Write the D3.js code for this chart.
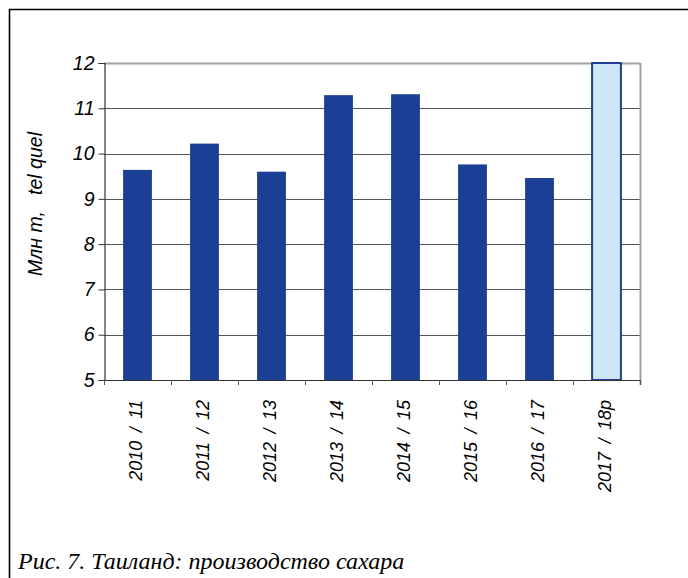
<!DOCTYPE html>
<html>
<head>
<meta charset="utf-8">
<script src="https://cdn.jsdelivr.net/npm/d3@7"></script>
<style>
  html, body { margin: 0; padding: 0; background: #fff; }
  svg { display: block; }
</style>
</head>
<body>
<svg id="chart" width="688" height="578"></svg>
<script>
// Sugar production in Thailand, million tonnes tel quel
const seasons = ["2010 / 11", "2011 / 12", "2012 / 13", "2013 / 14",
                 "2014 / 15", "2015 / 16", "2016 / 17", "2017 / 18p"];
const production = [9.64, 10.22, 9.60, 11.29, 11.31, 9.76, 9.46, 12.0];
const forecast = [false, false, false, false, false, false, false, true];
const yTicks = [5, 6, 7, 8, 9, 10, 11, 12];
const yTitle = "Млн т,   tel quel";
const caption = "Рис. 7. Таиланд: производство сахара";

const svg = d3.select("#chart");
const plot = { left: 104, right: 640, top: 63, bottom: 380 };
const sans = "'Liberation Sans', Arial, sans-serif";

const x = d3.scaleBand()
  .domain(seasons)
  .range([plot.left, plot.right])
  .paddingInner(0.57)
  .paddingOuter(0.285);

const y = d3.scaleLinear()
  .domain([5, 12])
  .range([plot.bottom, plot.top]);

// outer frame (runs off the page on the right and bottom)
svg.append("path")
  .attr("d", "M9.5,700 L9.5,9.5 L700,9.5")
  .attr("fill", "none")
  .attr("stroke", "#000")
  .attr("stroke-width", 1.6);

// horizontal gridlines
svg.append("g")
  .selectAll("line")
  .data(yTicks.filter(t => t > 5))
  .join("line")
  .attr("x1", plot.left)
  .attr("x2", plot.right)
  .attr("y1", d => Math.round(y(d)) + 0.5)
  .attr("y2", d => Math.round(y(d)) + 0.5)
  .attr("stroke", d => d === 12 ? "#a0a0a0" : "#555")
  .attr("stroke-width", d => d === 12 ? 2 : 1.2);

// right border of plot area
svg.append("line")
  .attr("x1", plot.right + 0.5).attr("x2", plot.right + 0.5)
  .attr("y1", plot.top).attr("y2", plot.bottom + 5)
  .attr("stroke", "#a0a0a0")
  .attr("stroke-width", 2);

// bars
svg.append("g")
  .selectAll("rect")
  .data(seasons)
  .join("rect")
  .attr("x", d => x(d))
  .attr("width", x.bandwidth())
  .attr("y", (d, i) => y(production[i]))
  .attr("height", (d, i) => y(5) - y(production[i]))
  .attr("fill", (d, i) => forecast[i] ? "#cde6f8" : "#1b3f94")
  .attr("stroke", (d, i) => forecast[i] ? "#1f3f96" : "none")
  .attr("stroke-width", 2);

// y axis
const yAxis = d3.axisLeft(y)
  .tickValues(yTicks)
  .tickSize(6)
  .tickPadding(4)
  .tickFormat(d3.format("d"));

const gy = svg.append("g")
  .attr("transform", `translate(${plot.left + 0.5},0)`)
  .call(yAxis);
gy.select(".domain").attr("stroke", "#333").attr("stroke-width", 1.2);
gy.selectAll(".tick line").attr("stroke", "#333");
gy.selectAll(".tick text")
  .attr("fill", "#000")
  .style("font-family", sans)
  .style("font-style", "italic")
  .style("font-size", "19.5px");

// x axis: ticks at category boundaries
const bounds = d3.range(seasons.length + 1).map(i => plot.left + i * x.step());
svg.append("line")
  .attr("x1", plot.left).attr("x2", plot.right)
  .attr("y1", plot.bottom + 0.5).attr("y2", plot.bottom + 0.5)
  .attr("stroke", "#333").attr("stroke-width", 1.2);
svg.append("g")
  .selectAll("line")
  .data(bounds)
  .join("line")
  .attr("x1", d => Math.round(d) + 0.5)
  .attr("x2", d => Math.round(d) + 0.5)
  .attr("y1", plot.bottom)
  .attr("y2", plot.bottom + 5)
  .attr("stroke", "#555");

// rotated category labels
svg.append("g")
  .selectAll("text")
  .data(seasons)
  .join("text")
  .attr("transform", d => `translate(${x(d) + x.bandwidth() / 2 + 4},${plot.bottom + 20}) rotate(-90)`)
  .attr("text-anchor", "end")
  .style("white-space", "pre")
  .style("word-spacing", "3.5px")
  .style("font-family", sans)
  .style("font-style", "italic")
  .style("font-size", "18px")
  .attr("fill", "#000")
  .text(d => d);

// y axis title
svg.append("text")
  .attr("transform", "translate(42,204) rotate(-90)")
  .attr("text-anchor", "middle")
  .style("white-space", "pre")
  .style("font-family", sans)
  .style("font-style", "italic")
  .style("font-size", "19.5px")
  .attr("fill", "#000")
  .text(yTitle);

// figure caption
svg.append("text")
  .attr("x", 18)
  .attr("y", 569)
  .style("font-family", "'Liberation Serif', 'Times New Roman', serif")
  .style("font-style", "italic")
  .style("font-size", "24px")
  .attr("fill", "#000")
  .text(caption);
</script>
</body>
</html>
